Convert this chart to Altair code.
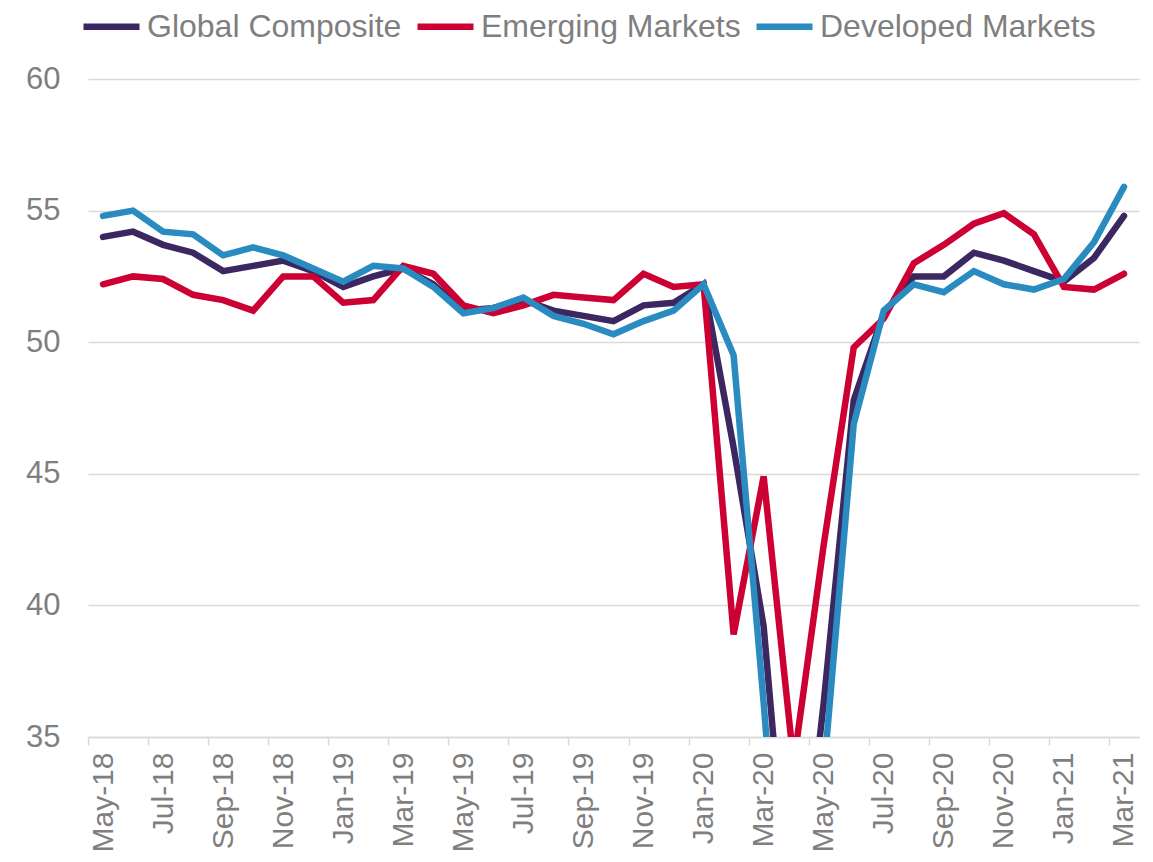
import altair as alt
import pandas as pd

months = ["May-18", "Jun-18", "Jul-18", "Aug-18", "Sep-18", "Oct-18", "Nov-18", "Dec-18",
          "Jan-19", "Feb-19", "Mar-19", "Apr-19", "May-19", "Jun-19", "Jul-19", "Aug-19",
          "Sep-19", "Oct-19", "Nov-19", "Dec-19", "Jan-20", "Feb-20", "Mar-20", "Apr-20",
          "May-20", "Jun-20", "Jul-20", "Aug-20", "Sep-20", "Oct-20", "Nov-20", "Dec-20",
          "Jan-21", "Feb-21", "Mar-21"]

global_composite = [54.0, 54.2, 53.7, 53.4, 52.7, 52.9, 53.1, 52.7, 52.1, 52.5, 52.8, 52.2,
                    51.2, 51.3, 51.6, 51.2, 51.0, 50.8, 51.4, 51.5, 52.2, 46.0, 39.2, 26.2,
                    36.3, 47.8, 51.1, 52.5, 52.5, 53.4, 53.1, 52.7, 52.3, 53.2, 54.8]

emerging_markets = [52.2, 52.5, 52.4, 51.8, 51.6, 51.2, 52.5, 52.5, 51.5, 51.6, 52.9, 52.6,
                    51.4, 51.1, 51.4, 51.8, 51.7, 51.6, 52.6, 52.1, 52.2, 38.9, 44.9, 34.0,
                    42.3, 49.8, 50.9, 53.0, 53.7, 54.5, 54.9, 54.1, 52.1, 52.0, 52.6]

developed_markets = [54.8, 55.0, 54.2, 54.1, 53.3, 53.6, 53.3, 52.8, 52.3, 52.9, 52.8, 52.1,
                     51.1, 51.3, 51.7, 51.0, 50.7, 50.3, 50.8, 51.2, 52.2, 49.5, 36.3, 21.9,
                     33.6, 46.9, 51.2, 52.2, 51.9, 52.7, 52.2, 52.0, 52.4, 53.8, 55.9]

series_names = ["Global Composite", "Emerging Markets", "Developed Markets"]
series_colors = ["#3c2760", "#cc0033", "#2a8bc1"]
x_tick_labels = months[::2]
y_tick_values = [35, 40, 45, 50, 55, 60]

rows = []
for name, vals in zip(series_names, [global_composite, emerging_markets, developed_markets]):
    for m, v in zip(months, vals):
        rows.append({"month": m, "series": name, "value": v})
df = pd.DataFrame(rows)

GRAY_TEXT = "#7f7f7f"
GRID = "#d9d9d9"
FONT = "Liberation Sans"
PLOT_W = 1051
PLOT_H = 658
HALF_STEP = PLOT_W / len(months) / 2

base = alt.Chart(df).mark_line(strokeWidth=6.5, strokeCap="round", clip=True).encode(
    x=alt.X(
        "month:O",
        sort=months,
        bandPosition=0.5,
        scale=alt.Scale(type="band", paddingInner=0, paddingOuter=0),
        axis=alt.Axis(
            values=x_tick_labels,
            labelAngle=-90,
            tickOffset=-HALF_STEP,
            labelOffset=HALF_STEP,
            tickSize=8,
            tickColor=GRID,
            tickWidth=1.5,
            domainColor=GRID,
            domainWidth=1.5,
            labelPadding=7,
            labelFontSize=30,
            grid=False,
        ),
        title=None,
    ),
    y=alt.Y(
        "value:Q",
        scale=alt.Scale(domain=[35, 60], nice=False, zero=False),
        axis=alt.Axis(
            values=y_tick_values,
            ticks=False,
            domain=False,
            grid=True,
            gridColor=GRID,
            gridWidth=1.5,
            labelPadding=28,
            labelFontSize=31,
        ),
        title=None,
    ),
    color=alt.Color(
        "series:N",
        scale=alt.Scale(domain=series_names, range=series_colors),
        legend=alt.Legend(
            title=None,
            orient="none",
            legendX=-8,
            legendY=-84,
            direction="horizontal",
            symbolType="stroke",
            symbolSize=3136,
            symbolStrokeWidth=6.5,
            labelFontSize=32,
            labelColor=GRAY_TEXT,
            labelFont=FONT,
            labelOffset=4,
            labelLimit=500,
            columnPadding=2,
            padding=0,
        ),
    ),
)

layers = [base.transform_filter(alt.datum.series == n) for n in series_names]

chart = alt.layer(*layers).properties(
    width=PLOT_W,
    height=PLOT_H,
    autosize=alt.AutoSizeParams(type="none"),
    padding={"left": 80, "top": 71, "right": 6, "bottom": 115},
).configure_axis(
    labelFont=FONT,
    labelColor=GRAY_TEXT,
).configure_view(stroke=None)

chart.save("out.html", embed_options={"renderer": "svg", "actions": False})
